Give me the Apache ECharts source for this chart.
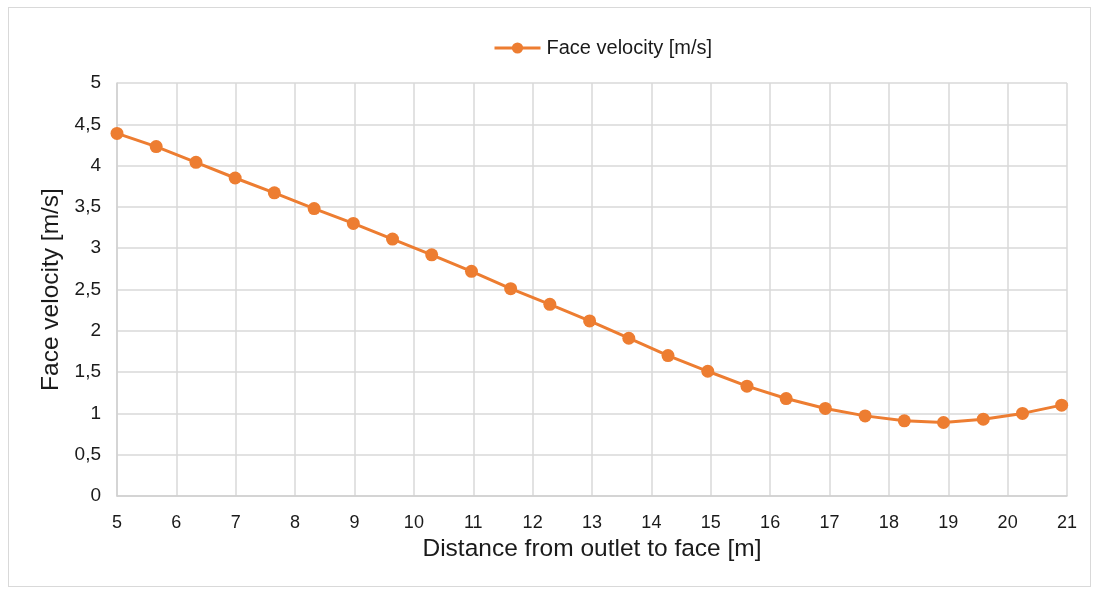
<!DOCTYPE html>
<html>
<head>
<meta charset="utf-8">
<script src="https://cdn.jsdelivr.net/npm/echarts@6/dist/echarts.min.js"></script>
<style>
html,body{margin:0;padding:0;background:#fff;}
#frame{position:absolute;left:8px;top:7px;width:1083px;height:580px;border:1px solid #d9d9d9;box-sizing:border-box;}
#chart{position:absolute;left:0;top:0;width:1099px;height:592px;}
</style>
</head>
<body>
<div id="frame"></div>
<div id="chart"></div>
<script>
var seriesName = 'Face velocity [m/s]';
var xTitle = 'Distance from outlet to face [m]';
var yTitle = 'Face velocity [m/s]';
var distance = [5, 5.66, 6.33, 6.99, 7.65, 8.32, 8.98, 9.64, 10.3, 10.97, 11.63, 12.29, 12.96, 13.62, 14.28, 14.95, 15.61, 16.27, 16.93, 17.6, 18.26, 18.92, 19.59, 20.25, 20.91];
var velocity = [4.39, 4.23, 4.04, 3.85, 3.67, 3.48, 3.30, 3.11, 2.92, 2.72, 2.51, 2.32, 2.12, 1.91, 1.70, 1.51, 1.33, 1.18, 1.06, 0.97, 0.91, 0.89, 0.93, 1.00, 1.10];

var points = distance.map(function (d, i) { return [d, velocity[i]]; });
var font = 'Liberation Sans, Arial, sans-serif';
var chart = echarts.init(document.getElementById('chart'));
chart.setOption({
  animation: false,
  backgroundColor: 'transparent',
  legend: {
    top: 33, left: 488,
    itemWidth: 46, itemHeight: 14, itemGap: 10,
    itemStyle: {color: '#ED7D31'},
    lineStyle: {color: '#ED7D31', width: 3},
    textStyle: {fontFamily: font, fontSize: 20, color: '#1a1a1a', padding: [0, 0, 0, 1]},
    data: [seriesName]
  },
  grid: {left: 117, right: 32, top: 83, bottom: 96},
  xAxis: {
    type: 'value', min: 5, max: 21, interval: 1,
    name: xTitle, nameLocation: 'middle', nameGap: 41,
    nameTextStyle: {fontFamily: font, fontSize: 24.5, color: '#1a1a1a'},
    axisLine: {lineStyle: {color: '#d0d0d0', width: 1.5}},
    axisTick: {show: false},
    axisLabel: {fontFamily: font, fontSize: 18, color: '#1a1a1a', margin: 18},
    splitLine: {show: true, lineStyle: {color: '#d9d9d9', width: 1.5}}
  },
  yAxis: {
    type: 'value', min: 0, max: 5, interval: 0.5,
    name: yTitle, nameLocation: 'middle', nameGap: 53, nameRotate: 90,
    nameTextStyle: {fontFamily: font, fontSize: 24.5, color: '#1a1a1a'},
    axisLine: {show: true, lineStyle: {color: '#d0d0d0', width: 1.5}},
    axisTick: {show: false},
    axisLabel: {fontFamily: font, fontSize: 19, color: '#1a1a1a', margin: 16,
      formatter: function (v) { return String(v).replace('.', ','); }},
    splitLine: {show: true, lineStyle: {color: '#d9d9d9', width: 1.5}}
  },
  series: [{
    name: seriesName, type: 'line', data: points,
    symbol: 'circle', symbolSize: 13,
    itemStyle: {color: '#ED7D31'},
    lineStyle: {color: '#ED7D31', width: 3}
  }]
});
</script>
</body>
</html>
